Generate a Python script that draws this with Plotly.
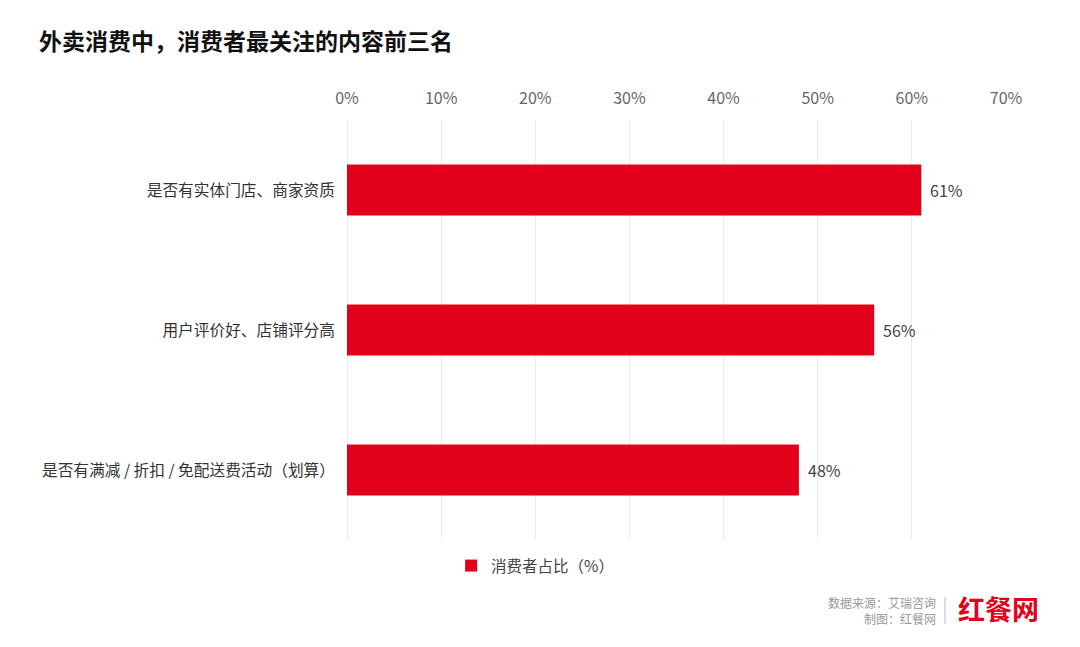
import plotly.graph_objects as go

categories = ["是否有实体门店、商家资质", "用户评价好、店铺评分高", "是否有满减 / 折扣 / 免配送费活动（划算）"]
values = [61, 56, 48]
value_labels = ["61%", "56%", "48%"]
tick_vals = [0, 10, 20, 30, 40, 50, 60, 70]
tick_text = ["0%", "10%", "20%", "30%", "40%", "50%", "60%", "70%"]
series_name = "消费者占比（%）"
title_text = "外卖消费中，消费者最关注的内容前三名"
source_lines = ["数据来源：艾瑞咨询", "制图：红餐网"]
logo_text = "红餐网"

RED = "#E3001B"
FONT = "Noto Sans CJK SC"
NARROW = "Liberation Sans Narrow, Noto Sans CJK SC"

# page body has an 8px margin, so the figure is offset by 8px
PL, PR, PT, PB = 347, 1006, 120, 540  # plot area in page pixels
W = 659.0
H = 420.0

def px(x):
    return (x - PL) / W

def py(y):
    return (PB - y) / H

fig = go.Figure()
fig.add_trace(go.Bar(
    y=categories, x=values, orientation="h", name=series_name,
    marker=dict(color=RED, line=dict(width=0)),
    width=0.365,
))

for c, v, t in zip(categories, values, value_labels):
    fig.add_annotation(x=v, y=c, xref="x", yref="y", text=t, showarrow=False,
                       xanchor="left", yanchor="middle", xshift=7,
                       font=dict(family=FONT, size=16, color="#444444"))

fig.update_layout(
    width=1072, height=639,
    margin=dict(l=339, r=74, t=112, b=107),
    paper_bgcolor="white", plot_bgcolor="white",
    font=dict(family=FONT, color="#333333"),
    showlegend=True,
    legend=dict(orientation="h", x=0.158, xanchor="left", y=py(566), yanchor="middle",
                font=dict(family=FONT, size=15.5, color="#444444"),
                itemwidth=30, bgcolor="rgba(0,0,0,0)"),
    xaxis=dict(range=[0, 70], side="top", tickvals=tick_vals, ticktext=tick_text,
               showgrid=True, gridcolor="#EBEBEB", gridwidth=1,
               zeroline=True, zerolinecolor="#EBEBEB", zerolinewidth=1,
               showline=False, ticks="", ticklabelstandoff=12,
               tickfont=dict(family=NARROW, size=16, color="#666666"),
               fixedrange=True),
    yaxis=dict(autorange="reversed", showgrid=False, zeroline=False, showline=False,
               ticks="", ticklabelstandoff=11,
               tickfont=dict(family=FONT, size=15.7, color="#333333")),
    bargap=0.635,
)

fig.add_annotation(text="<b>" + title_text + "</b>", xref="paper", yref="paper",
                   x=px(37), y=py(40), xanchor="left", yanchor="middle",
                   showarrow=False, font=dict(family=FONT, size=23, color="#111111"))

fig.add_annotation(text="<br>".join(source_lines), xref="paper", yref="paper",
                   x=px(938), y=py(610), xanchor="right", yanchor="middle", align="right",
                   showarrow=False, font=dict(family=FONT, size=12, color="#999999"))
fig.add_shape(type="line", xref="paper", yref="paper",
              x0=px(945), x1=px(945), y0=py(597), y1=py(624),
              line=dict(color="#BBBBBB", width=1))
fig.add_annotation(text="<b>" + logo_text + "</b>", xref="paper", yref="paper",
                   x=px(956), y=py(608), xanchor="left", yanchor="middle",
                   showarrow=False, font=dict(family=FONT, size=27, color=RED))

fig.write_html("out.html")
